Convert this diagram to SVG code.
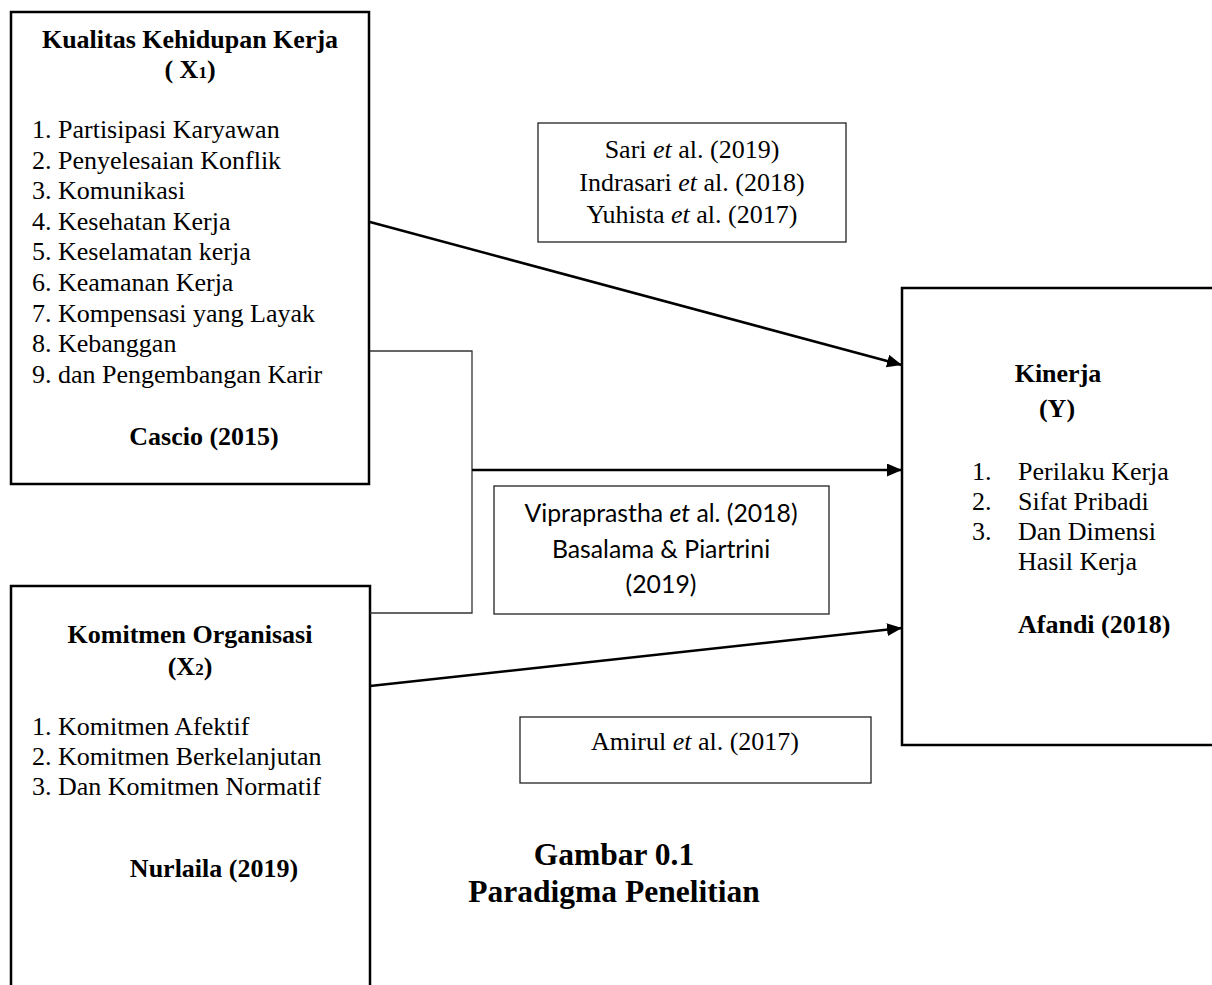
<svg xmlns="http://www.w3.org/2000/svg" width="1212" height="985" viewBox="0 0 1212 985">
<defs>
<style>
.box{fill:#fff;stroke:#000;stroke-width:2.5}
.thin{fill:#fff;stroke:#222;stroke-width:1.3}
.t{font-family:"Liberation Serif","Times New Roman",serif;font-size:26px;fill:#000}
.b{font-weight:bold}
.c{text-anchor:middle}
.cal{font-family:Lato,"Open Sans",sans-serif;font-size:24.8px;fill:#000;text-anchor:middle}
.cap{font-family:"Liberation Serif","Times New Roman",serif;font-size:31.5px;font-weight:bold;fill:#000;text-anchor:middle}
.ln{fill:none;stroke:#000;stroke-width:2.5}
.br{fill:none;stroke:#333;stroke-width:1.3}
</style>
<marker id="ah" markerWidth="15" markerHeight="13" refX="15" refY="6.5" orient="auto" markerUnits="userSpaceOnUse">
<path d="M0,0 L15,6.5 L0,13 Z" fill="#000"/>
</marker>
</defs>
<rect width="1212" height="985" fill="#fff"/>

<g id="x1">
<rect class="box" x="11" y="12" width="358" height="472"/>
<text class="t b c" x="190" y="48">Kualitas Kehidupan Kerja</text>
<text class="t b c" x="190" y="78">( X<tspan font-size="17">1</tspan>)</text>
<text class="t" x="32" y="138">1. Partisipasi Karyawan</text>
<text class="t" x="32" y="168.6">2. Penyelesaian Konflik</text>
<text class="t" x="32" y="199.2">3. Komunikasi</text>
<text class="t" x="32" y="229.8">4. Kesehatan Kerja</text>
<text class="t" x="32" y="260.4">5. Keselamatan kerja</text>
<text class="t" x="32" y="291">6. Keamanan Kerja</text>
<text class="t" x="32" y="321.6">7. Kompensasi yang Layak</text>
<text class="t" x="32" y="352.2">8. Kebanggan</text>
<text class="t" x="32" y="382.8">9. dan Pengembangan Karir</text>
<text class="t b c" x="204" y="445">Cascio (2015)</text>
</g>

<g id="x2">
<rect class="box" x="11" y="586" width="359" height="420"/>
<text class="t b c" x="190" y="643">Komitmen Organisasi</text>
<text class="t b c" x="190" y="675">(X<tspan font-size="17">2</tspan>)</text>
<text class="t" x="32" y="735">1. Komitmen Afektif</text>
<text class="t" x="32" y="765">2. Komitmen Berkelanjutan</text>
<text class="t" x="32" y="795">3. Dan Komitmen Normatif</text>
<text class="t b c" x="214" y="877">Nurlaila (2019)</text>
</g>

<g id="y">
<rect class="box" x="902" y="288" width="330" height="457"/>
<text class="t b c" x="1058" y="382">Kinerja</text>
<text class="t b c" x="1057" y="417">(Y)</text>
<text class="t" x="972" y="480">1.</text>
<text class="t" x="1018" y="480">Perilaku Kerja</text>
<text class="t" x="972" y="510">2.</text>
<text class="t" x="1018" y="510">Sifat Pribadi</text>
<text class="t" x="972" y="540">3.</text>
<text class="t" x="1018" y="540">Dan Dimensi</text>
<text class="t" x="1018" y="570">Hasil Kerja</text>
<text class="t b" x="1018" y="633">Afandi (2018)</text>
</g>

<g id="ref1">
<rect class="thin" x="538" y="123" width="308" height="119"/>
<text class="t c" x="692" y="158">Sari <tspan font-style="italic">et</tspan> al. (2019)</text>
<text class="t c" x="692" y="191">Indrasari <tspan font-style="italic">et</tspan> al. (2018)</text>
<text class="t c" x="692" y="223">Yuhista <tspan font-style="italic">et</tspan> al. (2017)</text>
</g>

<g id="ref2">
<rect class="thin" x="494" y="486" width="335" height="128"/>
<text class="cal" x="661" y="522">Vipraprastha <tspan font-style="italic">et</tspan> al. (2018)</text>
<text class="cal" x="661" y="558">Basalama &amp; Piartrini</text>
<text class="cal" x="661" y="593">(2019)</text>
</g>

<g id="ref3">
<rect class="thin" x="520" y="717" width="351" height="66"/>
<text class="t c" x="695" y="750">Amirul <tspan font-style="italic">et</tspan> al. (2017)</text>
</g>

<g id="connectors">
<line class="ln" x1="370" y1="222" x2="902" y2="365" marker-end="url(#ah)"/>
<polyline class="br" points="370,351 472,351 472,613 370,613"/>
<line class="ln" x1="472" y1="470" x2="902" y2="470" marker-end="url(#ah)"/>
<line class="ln" x1="370" y1="686" x2="902" y2="628" marker-end="url(#ah)"/>
</g>

<g id="caption">
<text class="cap" x="614" y="865">Gambar 0.1</text>
<text class="cap" x="614" y="902">Paradigma Penelitian</text>
</g>
</svg>
